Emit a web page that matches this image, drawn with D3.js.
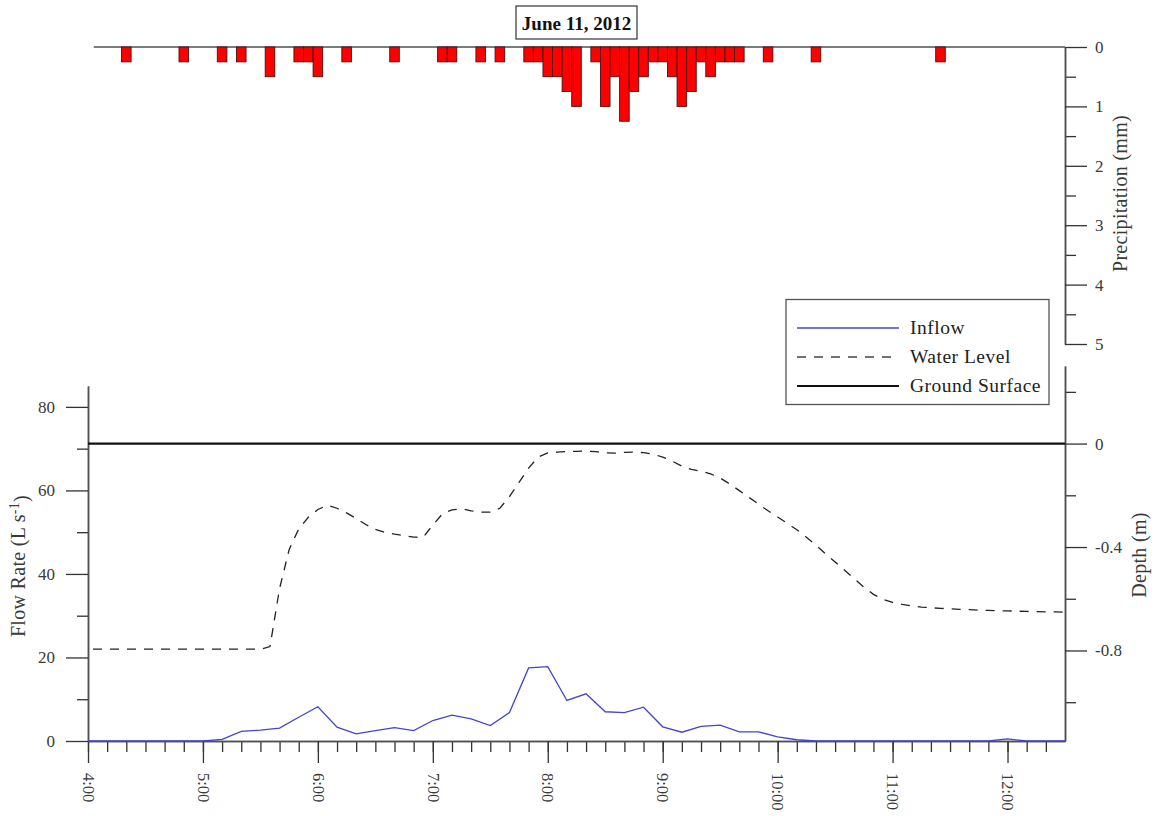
<!DOCTYPE html>
<html>
<head>
<meta charset="utf-8">
<script src="https://cdn.jsdelivr.net/npm/d3@7"></script>
<style>
  html, body { margin: 0; padding: 0; background: #fff; }
  svg { display: block; font-family: "Liberation Serif", "DejaVu Serif", serif; }
</style>
</head>
<body>
<svg id="chart" width="1160" height="816"></svg>
<script>
// Storm event of June 11, 2012: 5-min rainfall, inflow and water level.

const titleText = "June 11, 2012";

// 5-minute precipitation totals (mm), only the intervals with rain
const precipTimes = ["4:20","4:50","5:10","5:20","5:35","5:50","5:55","6:00","6:15","6:40",
  "7:05","7:10","7:25","7:35","7:50","7:55","8:00","8:05","8:10","8:15",
  "8:25","8:30","8:35","8:40","8:45","8:50","8:55","9:00","9:05","9:10",
  "9:15","9:20","9:25","9:30","9:35","9:40","9:55","10:20","11:25"];
const precipValues = [0.25,0.25,0.25,0.25,0.5,0.25,0.25,0.5,0.25,0.25,
  0.25,0.25,0.25,0.25,0.25,0.25,0.5,0.5,0.75,1.0,
  0.25,1.0,0.5,1.25,0.75,0.5,0.25,0.25,0.5,1.0,
  0.75,0.25,0.5,0.25,0.25,0.25,0.25,0.25,0.25];
const precipStepMin = 5;

// Inflow (L/s), 10-minute record from 4:00
const flowStart = "4:00";
const flowStepMin = 10;
const flowValues = [0,0,0,0,0,0,
  0,0.4,2.3,2.6,3.1,5.7,
  8.2,3.3,1.7,2.5,3.2,2.5,
  4.9,6.2,5.3,3.7,6.8,17.5,
  17.8,9.7,11.3,7.0,6.8,8.1,
  3.4,2.1,3.5,3.8,2.2,2.2,
  1.0,0.3,0,0,0,0,
  0,0,0,0,0,0,
  0.5,0,0,0];

// Water level relative to ground surface (m), 5-minute record from 4:00
const levelStart = "4:00";
const levelStepMin = 5;
const levelValues = [
  -0.795,-0.795,-0.795,-0.795,-0.795,-0.795,-0.795,-0.795,-0.795,-0.795,
  -0.795,-0.795,-0.795,-0.795,-0.795,-0.795,-0.795,-0.795,-0.795,-0.785,
  -0.56,-0.41,-0.33,-0.285,-0.255,-0.238,-0.25,-0.268,-0.29,-0.313,
  -0.332,-0.343,-0.35,-0.356,-0.362,-0.362,-0.315,-0.272,-0.256,-0.252,
  -0.26,-0.265,-0.265,-0.25,-0.205,-0.15,-0.095,-0.052,-0.036,-0.033,
  -0.031,-0.03,-0.029,-0.031,-0.036,-0.037,-0.034,-0.033,-0.035,-0.041,
  -0.052,-0.068,-0.087,-0.1,-0.107,-0.117,-0.133,-0.156,-0.182,-0.208,
  -0.234,-0.26,-0.284,-0.308,-0.333,-0.362,-0.393,-0.426,-0.458,-0.49,
  -0.523,-0.555,-0.583,-0.602,-0.614,-0.622,-0.628,-0.632,-0.635,-0.637,
  -0.639,-0.641,-0.642,-0.644,-0.645,-0.646,-0.647,-0.648,-0.649,-0.65,
  -0.651,-0.651,-0.652];

const groundSurface = 0;

const hourLabels = ["4:00","5:00","6:00","7:00","8:00","9:00","10:00","11:00","12:00"];
const timeDomain = ["4:00","12:30"];
const precipTicks = [0,1,2,3,4,5];
const precipMinorTicks = [0.5,1.5,2.5,3.5,4.5];
const flowTicks = [0,20,40,60,80];
const flowMinorTicks = [10,30,50,70];
const depthTicks = [0,-0.4,-0.8];
const depthMinorTicks = [0.2,-0.2,-0.6,-1.0];

const legendItems = [
  {label: "Inflow", key: "flow"},
  {label: "Water Level", key: "level"},
  {label: "Ground Surface", key: "ground"}
];

// ---- helpers ----
const toMin = s => { const [h, m] = s.split(":").map(Number); return h * 60 + m; };
const fmtTime = m => `${Math.floor(m / 60)}:${String(m % 60).padStart(2, "0")}`;

const svg = d3.select("#chart");
const axisColor = "#505050";
const labelColor = "#3a3a3a";

// ---- scales ----
const x = d3.scaleLinear().domain(timeDomain.map(toMin)).range([88, 1065]);
const yP = d3.scaleLinear().domain([0, 5]).range([47, 344]);
const yF = d3.scaleLinear().domain([0, 85]).range([741, 386]);
const yD = d3.scaleLinear().domain([-1.15, 0.3]).range([741, 366]);

function styleAxis(g, fontSize) {
  g.selectAll("path.domain").attr("stroke", axisColor).attr("stroke-width", 1.5);
  g.selectAll(".tick line").attr("stroke", "#333").attr("stroke-width", 1.3);
  g.selectAll(".tick text").attr("fill", labelColor)
    .style("font-family", '"Liberation Serif", serif').style("font-size", fontSize + "px");
}

// ---- precipitation panel ----
const barW = x(toMin("4:00") + precipStepMin) - x(toMin("4:00"));
const precip = precipTimes.map((t, i) => ({t: toMin(t), v: precipValues[i]}));

svg.append("line")
  .attr("x1", x(toMin("4:00") + 3)).attr("x2", x.range()[1])
  .attr("y1", yP(0)).attr("y2", yP(0))
  .attr("stroke", axisColor).attr("stroke-width", 1.5);

svg.append("g").selectAll("rect").data(precip).join("rect")
  .attr("x", d => x(d.t) - barW / 2)
  .attr("y", yP(0))
  .attr("width", barW)
  .attr("height", d => yP(d.v) - yP(0))
  .attr("fill", "#ff0000")
  .attr("stroke", "#4a1010")
  .attr("stroke-width", 0.9);

const pMinor = svg.append("g").attr("transform", `translate(${x.range()[1]},0)`)
  .call(d3.axisRight(yP).tickValues(precipMinorTicks).tickSize(11).tickSizeOuter(0).tickFormat(""));
styleAxis(pMinor, 16);
const pMajor = svg.append("g").attr("transform", `translate(${x.range()[1]},0)`)
  .call(d3.axisRight(yP).tickValues(precipTicks).tickSize(22).tickSizeOuter(0).tickPadding(8).tickFormat(d3.format("d")));
styleAxis(pMajor, 17);

svg.append("text")
  .attr("transform", `translate(1128,${(yP(0) + yP(5)) / 2 - 2}) rotate(-90)`)
  .attr("text-anchor", "middle").attr("dy", "-0.05em")
  .attr("fill", labelColor).style("font-size", "20px").style("letter-spacing", "0.3px")
  .text("Precipitation (mm)");

// ---- title ----
const title = svg.append("g");
title.append("rect").attr("x", 516).attr("y", 6).attr("width", 121).attr("height", 33)
  .attr("fill", "#fff").attr("stroke", "#333").attr("stroke-width", 1.2);
title.append("text").attr("x", 576.5).attr("y", 29.5).attr("text-anchor", "middle")
  .attr("fill", "#111").style("font-size", "19px").style("font-weight", "bold")
  .text(titleText);

// ---- lower panel ----
const flow = flowValues.map((v, i) => ({t: toMin(flowStart) + i * flowStepMin, v}));
const level = levelValues.map((v, i) => ({t: toMin(levelStart) + i * levelStepMin, v}));

// x axis: 10-minute minor ticks, hourly labelled ticks
const minorTimes = d3.range(toMin("4:00"), toMin("12:30"), 10);
const xMinor = svg.append("g").attr("transform", `translate(0,${yF(0)})`)
  .call(d3.axisBottom(x).tickValues(minorTimes).tickSize(11).tickSizeOuter(0).tickFormat(""));
styleAxis(xMinor, 16);
const xMajor = svg.append("g").attr("transform", `translate(0,${yF(0)})`)
  .call(d3.axisBottom(x).tickValues(hourLabels.map(toMin)).tickSize(22).tickSizeOuter(0).tickFormat(fmtTime));
styleAxis(xMajor, 16.5);
xMajor.selectAll(".tick text")
  .attr("transform", "rotate(90)")
  .attr("x", 32).attr("y", 0).attr("dy", "0.35em")
  .style("text-anchor", "start");

// left axis: flow rate
const fMinor = svg.append("g").attr("transform", `translate(${x.range()[0]},0)`)
  .call(d3.axisLeft(yF).tickValues(flowMinorTicks).tickSize(11).tickSizeOuter(0).tickFormat(""));
styleAxis(fMinor, 16);
const fMajor = svg.append("g").attr("transform", `translate(${x.range()[0]},0)`)
  .call(d3.axisLeft(yF).tickValues(flowTicks).tickSize(22).tickSizeOuter(0).tickPadding(11).tickFormat(d3.format("d")));
styleAxis(fMajor, 17);

const flowLabel = svg.append("text")
  .attr("transform", `translate(25,566) rotate(-90)`)
  .attr("text-anchor", "middle")
  .attr("fill", labelColor).style("font-size", "20px").style("letter-spacing", "0.3px");
flowLabel.append("tspan").text("Flow Rate (L s");
flowLabel.append("tspan").attr("dy", "-0.45em").style("font-size", "14px").text("-1");
flowLabel.append("tspan").attr("dy", "0.45em").text(")");

// right axis: depth
const dMinor = svg.append("g").attr("transform", `translate(${x.range()[1]},0)`)
  .call(d3.axisRight(yD).tickValues(depthMinorTicks).tickSize(11).tickSizeOuter(0).tickFormat(""));
styleAxis(dMinor, 16);
const dMajor = svg.append("g").attr("transform", `translate(${x.range()[1]},0)`)
  .call(d3.axisRight(yD).tickValues(depthTicks).tickSize(22).tickSizeOuter(0).tickPadding(8)
    .tickFormat(d => d === 0 ? "0" : d3.format(".1f")(d).replace("−", "-")));
styleAxis(dMajor, 17);

svg.append("text")
  .attr("transform", `translate(1146,555) rotate(-90)`)
  .attr("text-anchor", "middle")
  .attr("fill", labelColor).style("font-size", "20px").style("letter-spacing", "0.3px")
  .text("Depth (m)");

// ground surface
svg.append("line")
  .attr("x1", x.range()[0]).attr("x2", x.range()[1])
  .attr("y1", yD(groundSurface)).attr("y2", yD(groundSurface))
  .attr("stroke", "#111").attr("stroke-width", 2.2);

// water level
svg.append("path").datum(level)
  .attr("fill", "none").attr("stroke", "#222").attr("stroke-width", 1.3)
  .attr("stroke-dasharray", "9,8").attr("stroke-dashoffset", -5)
  .attr("d", d3.line().x(d => x(d.t)).y(d => yD(d.v)));

// inflow
svg.append("path").datum(flow)
  .attr("fill", "none").attr("stroke", "#4444cc").attr("stroke-width", 1.3)
  .attr("d", d3.line().x(d => x(d.t)).y(d => yF(d.v)));

// ---- legend ----
const legend = svg.append("g");
legend.append("rect").attr("x", 786).attr("y", 299.5).attr("width", 263).attr("height", 105)
  .attr("fill", "#fff").attr("stroke", "#555").attr("stroke-width", 1.3);
const lineStyle = {
  flow: {stroke: "#4444cc", width: 1.3, dash: null},
  level: {stroke: "#444", width: 1.4, dash: "9,8"},
  ground: {stroke: "#111", width: 2.2, dash: null}
};
const rowY = d3.scalePoint().domain(legendItems.map(d => d.key)).range([328, 386]);
const rows = legend.selectAll("g.row").data(legendItems).join("g").attr("class", "row")
  .attr("transform", d => `translate(0,${rowY(d.key)})`);
rows.append("line").attr("x1", 797).attr("x2", 899)
  .attr("stroke", d => lineStyle[d.key].stroke)
  .attr("stroke-width", d => lineStyle[d.key].width)
  .attr("stroke-dasharray", d => lineStyle[d.key].dash);
rows.append("text").attr("x", 910).attr("dy", "0.33em")
  .attr("fill", "#222").style("font-size", "19.5px").style("letter-spacing", "0.5px")
  .text(d => d.label);
</script>
</body>
</html>
